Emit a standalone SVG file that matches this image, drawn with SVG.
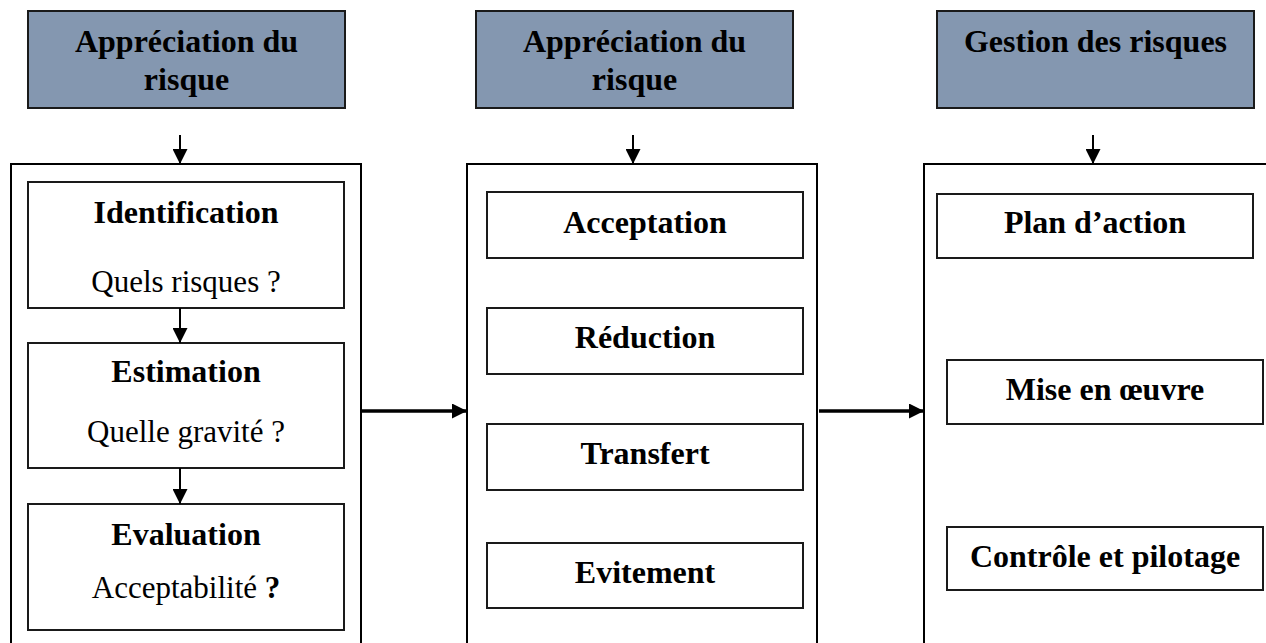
<svg xmlns="http://www.w3.org/2000/svg" width="1266" height="643" viewBox="0 0 1266 643">
  <style>
    .hdr { fill: #8497b0; stroke: #1a1a1a; stroke-width: 2; }
    .frame { fill: #ffffff; stroke: #000000; stroke-width: 2; }
    .box { fill: #ffffff; stroke: #1a1a1a; stroke-width: 2; }
    .b { font-family: "Liberation Serif", "Times New Roman", serif; font-weight: bold; font-size: 32px; fill: #000; text-anchor: middle; }
    .r { font-family: "Liberation Serif", "Times New Roman", serif; font-size: 31px; fill: #000; text-anchor: middle; }
    .link { stroke: #000; stroke-width: 2; fill: none; marker-end: url(#ah); }
    .flow { stroke: #000; stroke-width: 3.5; fill: none; marker-end: url(#ah); }
  </style>
  <defs>
    <marker id="ah" markerUnits="userSpaceOnUse" markerWidth="15" markerHeight="15" refX="15" refY="7.5" orient="auto">
      <path d="M0,0 L15,7.5 L0,15 Z" fill="#000"/>
    </marker>
  </defs>

  <rect width="1266" height="643" fill="#ffffff"/>

  <!-- Column 1 -->
  <g id="head-appreciation-1">
    <rect class="hdr" x="28" y="11" width="317" height="97"/>
    <text class="b" x="186.5" y="52">Appréciation du</text>
    <text class="b" x="186.5" y="90">risque</text>
  </g>
  <g id="frame-1">
    <rect class="frame" x="11" y="164" width="350" height="500"/>
  </g>
  <g id="identification">
    <rect class="box" x="28" y="182" width="316" height="126"/>
    <text class="b" x="186" y="223">Identification</text>
    <text class="r" x="186" y="292">Quels risques ?</text>
  </g>
  <g id="estimation">
    <rect class="box" x="28" y="343" width="316" height="125"/>
    <text class="b" x="186" y="382">Estimation</text>
    <text class="r" x="186" y="442">Quelle gravité ?</text>
  </g>
  <g id="evaluation">
    <rect class="box" x="28" y="504" width="316" height="126"/>
    <text class="b" x="186" y="545">Evaluation</text>
    <text class="r" x="186" y="598">Acceptabilité <tspan font-weight="bold">?</tspan></text>
  </g>

  <!-- Column 2 -->
  <g id="head-appreciation-2">
    <rect class="hdr" x="476" y="11" width="317" height="97"/>
    <text class="b" x="634.5" y="52">Appréciation du</text>
    <text class="b" x="634.5" y="90">risque</text>
  </g>
  <g id="frame-2">
    <rect class="frame" x="467" y="164" width="350" height="500"/>
  </g>
  <g id="acceptation">
    <rect class="box" x="487" y="192" width="316" height="66"/>
    <text class="b" x="645" y="233">Acceptation</text>
  </g>
  <g id="reduction">
    <rect class="box" x="487" y="308" width="316" height="66"/>
    <text class="b" x="645" y="348">Réduction</text>
  </g>
  <g id="transfert">
    <rect class="box" x="487" y="424" width="316" height="66"/>
    <text class="b" x="645" y="464">Transfert</text>
  </g>
  <g id="evitement">
    <rect class="box" x="487" y="543" width="316" height="65"/>
    <text class="b" x="645" y="583">Evitement</text>
  </g>

  <!-- Column 3 -->
  <g id="head-gestion">
    <rect class="hdr" x="937" y="11" width="317" height="97"/>
    <text class="b" x="1095.5" y="52">Gestion des risques</text>
  </g>
  <g id="frame-3">
    <rect class="frame" x="924" y="164" width="380" height="500"/>
  </g>
  <g id="plan-action">
    <rect class="box" x="937" y="194" width="316" height="64"/>
    <text class="b" x="1095" y="233">Plan d’action</text>
  </g>
  <g id="mise-en-oeuvre">
    <rect class="box" x="947" y="360" width="316" height="64"/>
    <text class="b" x="1105" y="400">Mise en œuvre</text>
  </g>
  <g id="controle-pilotage">
    <rect class="box" x="947" y="527" width="316" height="63"/>
    <text class="b" x="1105" y="567">Contrôle et pilotage</text>
  </g>

  <!-- Connectors -->
  <g id="connectors">
    <line class="link" x1="180" y1="135" x2="180" y2="164"/>
    <line class="link" x1="633" y1="135" x2="633" y2="164"/>
    <line class="link" x1="1093" y1="135" x2="1093" y2="164"/>
    <line class="link" x1="180" y1="308" x2="180" y2="343"/>
    <line class="link" x1="180" y1="468" x2="180" y2="504"/>
    <line class="flow" x1="362" y1="411" x2="467" y2="411"/>
    <line class="flow" x1="819" y1="411" x2="924" y2="411"/>
  </g>
</svg>
